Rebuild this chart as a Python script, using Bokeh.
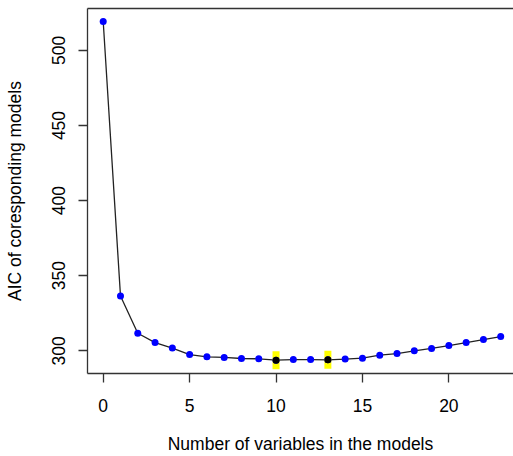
from bokeh.plotting import figure
from bokeh.models import LinearAxis, FixedTicker, Range1d, ColumnDataSource
from bokeh.embed import file_html
from bokeh.resources import INLINE

# ---- data ----
n_vars = list(range(24))
aic = [519.2, 336.5, 311.7, 305.5, 301.8, 297.5, 296.0, 295.6, 294.9, 294.7,
       293.8, 294.2, 294.2, 294.0, 294.5, 295.1, 297.1, 298.2, 300.0, 301.6,
       303.5, 305.5, 307.5, 309.5]
best_vars = [10, 13]
best_aic = [aic[i] for i in best_vars]
x_ticks = [0, 5, 10, 15, 20]
y_ticks = [300, 350, 400, 450, 500]
x_label = "Number of variables in the models"
y_label = "AIC of coresponding models"

FONT = "Liberation Sans"
FS = "17.5px"
LINE = "#333333"

p = figure(width=513, height=456, output_backend="svg", toolbar_location=None,
           x_range=Range1d(-0.909, 23.74), y_range=Range1d(284.9, 527.9),
           x_axis_location=None, y_axis_location=None,
           min_border_left=87, min_border_right=0, min_border_top=8,
           min_border_bottom=82)
p.grid.visible = False
p.outline_line_color = None
p.background_fill_color = "white"
p.border_fill_color = "white"

def style(ax, label):
    ax.axis_label = label
    ax.axis_label_text_font = FONT
    ax.axis_label_text_font_size = FS
    ax.axis_label_text_font_style = "normal"
    ax.axis_label_text_color = "black"
    ax.axis_label_text_line_height = 1.0
    ax.major_label_text_font = FONT
    ax.major_label_text_font_size = FS
    ax.major_label_text_color = "black"
    ax.major_label_text_line_height = 1.0
    ax.axis_line_color = LINE
    ax.axis_line_width = 1.3
    ax.major_tick_line_color = LINE
    ax.major_tick_line_width = 1.3
    ax.major_tick_in = 0
    ax.major_tick_out = 9
    ax.minor_tick_line_color = None

xa = LinearAxis(ticker=FixedTicker(ticks=x_ticks))
style(xa, x_label)
xa.major_label_standoff = 16
xa.axis_label_standoff = 19
p.add_layout(xa, "below")

ya = LinearAxis(ticker=FixedTicker(ticks=y_ticks))
style(ya, y_label)
ya.major_label_orientation = "vertical"
ya.major_label_standoff = 13
ya.axis_label_standoff = 25
p.add_layout(ya, "left")

top = LinearAxis(ticker=FixedTicker(ticks=[]))
top.axis_line_color = LINE
top.axis_line_width = 1.3
top.major_tick_line_color = None
top.minor_tick_line_color = None
top.major_label_text_font_size = "0px"
p.add_layout(top, "above")

src = ColumnDataSource(dict(x=n_vars, y=aic))
best = ColumnDataSource(dict(x=best_vars, y=best_aic))

p.line("x", "y", source=src, line_color="#222222", line_width=1.3)
p.rect("x", "y", source=best, width=7, height=18, width_units="screen",
       height_units="screen", fill_color="#FFFF00", line_color=None)
p.scatter("x", "y", source=src, size=7, fill_color="#0000FF", line_color=None)
p.scatter("x", "y", source=best, size=7, fill_color="black", line_color=None)

open("out.html", "w").write(file_html(p, INLINE))
